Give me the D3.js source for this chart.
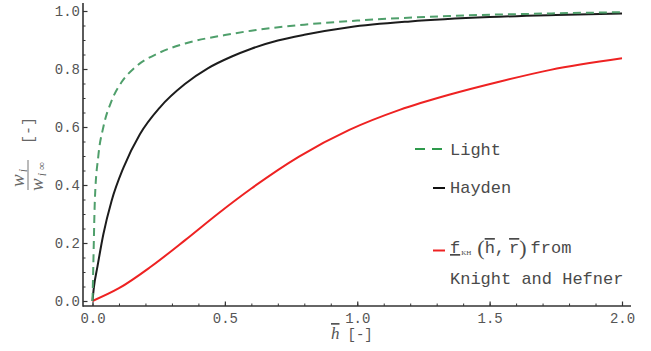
<!DOCTYPE html>
<html>
<head>
<meta charset="utf-8">
<script src="https://cdn.jsdelivr.net/npm/d3@7"></script>
<style>
  body { margin: 0; background: #fff; }
  svg text { font-family: "Courier New", "Nimbus Mono PS", "FreeMono", Courier, "Liberation Mono", monospace; }
</style>
</head>
<body>
<div id="chart"></div>
<script>
// curves (x = h-bar, y = w_i / w_i,inf)
const lightX  = [0, 0.003, 0.009, 0.022, 0.041, 0.072, 0.11, 0.16, 0.25, 0.35, 0.5, 0.6, 0.8, 1.0, 1.35, 1.7, 2.0];
const lightY  = [0, 0.12, 0.35, 0.50, 0.60, 0.69, 0.755, 0.805, 0.855, 0.888, 0.917, 0.932, 0.953, 0.967, 0.983, 0.991, 0.996];
const haydenX = [0, 0.005, 0.019, 0.041, 0.072, 0.117, 0.179, 0.255, 0.349, 0.437, 0.526, 0.6, 0.7, 0.8, 0.97, 1.2, 1.5, 1.75, 2.0];
const haydenY = [0, 0.045, 0.12, 0.23, 0.345, 0.46, 0.575, 0.668, 0.748, 0.803, 0.843, 0.87, 0.898, 0.918, 0.944, 0.964, 0.979, 0.986, 0.991];
const khX     = [0, 0.1, 0.22, 0.35, 0.475, 0.6, 0.78, 0.97, 1.16, 1.35, 1.54, 1.73, 2.0];
const khY     = [0, 0.044, 0.118, 0.210, 0.302, 0.388, 0.498, 0.590, 0.659, 0.712, 0.757, 0.797, 0.837];

const xMajor = [0, 0.5, 1.0, 1.5, 2.0];
const yMajor = [0, 0.2, 0.4, 0.6, 0.8, 1.0];

const width = 651, height = 351;
const svg = d3.select('#chart').append('svg')
    .attr('width', width)
    .attr('height', height);

const x = d3.scaleLinear().domain([0, 2]).range([92.5, 622]);
const y = d3.scaleLinear().domain([0, 1]).range([301, 11]);

// axes sit a bit off the data origin, like Mathematica does
const axisX = 83, axisY = 306;
const axisColor = '#333';
const tickText = '#555';
const monoFont = '"Courier New", "Nimbus Mono PS", "FreeMono", Courier, "Liberation Mono", monospace';
const serifFont = '"Liberation Serif", "DejaVu Serif", serif';

// minor ticks
svg.append('g')
    .attr('transform', `translate(0,${axisY})`)
    .call(d3.axisBottom(x).tickValues(d3.range(0, 2.01, 0.1)).tickSize(-2.5).tickFormat(''))
    .call(g => g.select('.domain').remove())
    .call(g => g.selectAll('line').attr('stroke', axisColor));
svg.append('g')
    .attr('transform', `translate(${axisX},0)`)
    .call(d3.axisLeft(y).tickValues(d3.range(0, 1.001, 0.05)).tickSize(-2.5).tickFormat(''))
    .call(g => g.select('.domain').remove())
    .call(g => g.selectAll('line').attr('stroke', axisColor));

// major ticks + labels
svg.append('g')
    .attr('transform', `translate(0,${axisY})`)
    .call(d3.axisBottom(x).tickValues(xMajor).tickSize(-4.5).tickPadding(7).tickFormat(d3.format('.1f')))
    .call(g => g.select('.domain').remove())
    .call(g => g.selectAll('line').attr('stroke', axisColor).attr('stroke-width', 1.2))
    .call(g => g.selectAll('text').attr('fill', tickText).style('font-size', '14px')
        .style('font-family', monoFont));
svg.append('g')
    .attr('transform', `translate(${axisX},0)`)
    .call(d3.axisLeft(y).tickValues(yMajor).tickSize(-4.5).tickPadding(3).tickFormat(d3.format('.1f')))
    .call(g => g.select('.domain').remove())
    .call(g => g.selectAll('line').attr('stroke', axisColor).attr('stroke-width', 1.2))
    .call(g => g.selectAll('text').attr('fill', tickText).style('font-size', '14px')
        .style('font-family', monoFont));

// axis lines
svg.append('line')
    .attr('x1', axisX).attr('x2', 631).attr('y1', axisY).attr('y2', axisY)
    .attr('stroke', axisColor).attr('stroke-width', 1.6);
svg.append('line')
    .attr('x1', axisX).attr('x2', axisX).attr('y1', 3).attr('y2', axisY + 0.8)
    .attr('stroke', axisColor).attr('stroke-width', 1.6);

// curves
const line = d3.line()
    .x(d => x(d[0]))
    .y(d => y(d[1]))
    .curve(d3.curveMonotoneX);

const series = [
    { xs: khX, ys: khY, color: '#ee2222', dash: null },
    { xs: haydenX, ys: haydenY, color: '#1c1c1c', dash: null },
    { xs: lightX, ys: lightY, color: '#4f9f6b', dash: '8,5' }
];
series.forEach(s => {
    svg.append('path')
        .datum(d3.zip(s.xs, s.ys))
        .attr('d', line)
        .attr('fill', 'none')
        .attr('stroke', s.color)
        .attr('stroke-width', 2)
        .attr('stroke-dasharray', s.dash);
});

// x axis title: h-bar [-]
const xt = svg.append('text')
    .attr('x', 331).attr('y', 339)
    .attr('fill', '#555')
    .style('font-size', '15px');
xt.append('tspan')
    .style('font-family', serifFont)
    .style('font-style', 'italic')
    .style('font-size', '17px')
    .style('text-decoration', 'overline')
    .text('h');
xt.append('tspan').attr('dx', 8).style('font-size', '14px').text('[-]');

// y axis title: w_i / w_i,inf [-]
const yt = svg.append('g').attr('transform', 'translate(28,175) rotate(-90)');
yt.append('line')
    .attr('x1', -15).attr('x2', 15).attr('y1', 0).attr('y2', 0)
    .attr('stroke', '#666').attr('stroke-width', 0.9);
const num = yt.append('text').attr('x', -12).attr('y', -4).attr('fill', '#666')
    .style('font-family', serifFont).style('font-style', 'italic').style('font-size', '19px');
num.append('tspan').text('w');
num.append('tspan').attr('dx', 2).attr('dy', 3).style('font-size', '12px').text('i');
const den = yt.append('text').attr('x', -16).attr('y', 15).attr('fill', '#666')
    .style('font-family', serifFont).style('font-style', 'italic').style('font-size', '19px');
den.append('tspan').text('w');
den.append('tspan').attr('dx', 2).attr('dy', 3).style('font-size', '12px').text('i');
den.append('tspan').attr('dx', 3).attr('dy', -1).style('font-size', '11px').style('font-style', 'normal').text('∞');
yt.append('text').attr('x', 31).attr('y', 5).attr('fill', '#666')
    .style('font-size', '15px').text('[-]');

// legend
const legendText = '#4a4a4a';
const leg = svg.append('g');
leg.append('line').attr('x1', 415).attr('x2', 445).attr('y1', 149).attr('y2', 149)
    .attr('stroke', '#2e9a4c').attr('stroke-width', 2).attr('stroke-dasharray', '10,7');
leg.append('text').attr('x', 450).attr('y', 155).attr('fill', legendText)
    .style('font-size', '17px').text('Light');

leg.append('line').attr('x1', 433).attr('x2', 445).attr('y1', 188).attr('y2', 188)
    .attr('stroke', '#111').attr('stroke-width', 2);
leg.append('text').attr('x', 450).attr('y', 193).attr('fill', legendText)
    .style('font-size', '17px').text('Hayden');

leg.append('line').attr('x1', 433).attr('x2', 445).attr('y1', 250.5).attr('y2', 250.5)
    .attr('stroke', '#ee2222').attr('stroke-width', 2);
const kh = leg.append('text').attr('x', 450).attr('y', 253).attr('fill', legendText)
    .style('font-size', '17px');
kh.append('tspan').style('text-decoration', 'underline').text('f');
kh.append('tspan').attr('dx', 1).attr('dy', 2).style('font-size', '7px')
    .style('font-family', serifFont).text('KH');
kh.append('tspan').attr('dx', 6).attr('dy', 0).style('font-size', '22px')
    .style('font-family', serifFont).text('(');
kh.append('tspan').attr('dy', -2).style('text-decoration', 'overline').text('h');
kh.append('tspan').text(',');
kh.append('tspan').attr('dx', 4).style('text-decoration', 'overline').text('r');
kh.append('tspan').attr('dy', 2).style('font-size', '22px')
    .style('font-family', serifFont).text(')');
kh.append('tspan').attr('dx', 4).attr('dy', -2).text('from');
leg.append('text').attr('x', 450).attr('y', 284).attr('fill', legendText)
    .style('font-size', '17px').text('Knight and Hefner');
</script>
</body>
</html>
